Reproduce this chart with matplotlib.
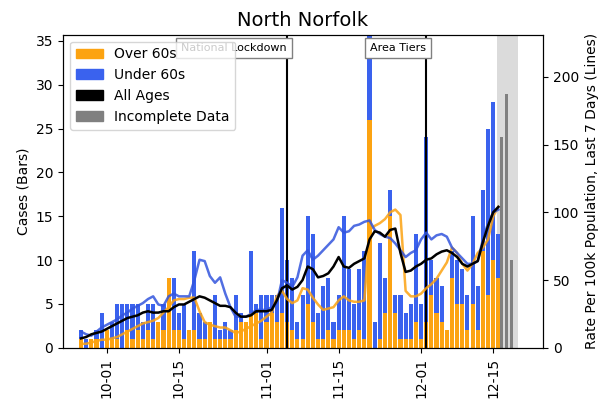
import matplotlib
matplotlib.use("Agg")
import matplotlib.pyplot as plt
import matplotlib.dates as mdates
from matplotlib.patches import Patch
import pandas as pd

# daily cases, 26 Sep - 16 Dec 2020
dates = pd.date_range("2020-09-26", "2020-12-16", freq="D")
over60 = [1, 0, 1, 1, 0, 2, 1, 1, 0, 2, 1, 2, 1, 2, 1, 3, 2, 8,
          2, 2, 1, 2, 2, 1, 1, 3, 1, 1, 1, 1, 2, 3, 3, 4, 4, 1,
          3, 4, 3, 4, 3, 2, 1, 1, 5, 3, 1, 1, 2, 1, 2, 2, 2, 1, 2, 1,
          26, 0, 1, 4, 15, 4, 1, 1, 1, 3, 1, 3, 6, 4, 3, 2, 8, 5, 5, 2,
          5, 2, 11, 6, 10, 8]
under60 = [1, 1, 0, 1, 4, 0, 2, 4, 5, 3, 4, 3, 2, 3, 4, 0, 3, 0,
           6, 2, 4, 0, 9, 3, 2, 0, 5, 1, 2, 1, 4, 1, 0, 7, 1, 5,
           3, 2, 3, 12, 7, 6, 2, 5, 10, 10, 3, 6, 6, 2, 4, 13, 7, 4, 7, 10,
           11, 3, 11, 4, 3, 2, 5, 3, 4, 10, 4, 21, 4, 4, 4, 0, 3, 5, 4, 4,
           10, 5, 7, 19, 18, 5]

# incomplete recent days
inc_dates = pd.to_datetime(["2020-12-17", "2020-12-18", "2020-12-19"])
inc_cases = [24, 29, 10]

# 7-day rates per 100k
rate_all = [7, 8, 10, 11, 12, 14, 16, 18, 20, 22, 23, 24, 26, 27, 26, 26, 27, 27,
            30, 32, 32, 34, 36, 38, 37, 35, 33, 31, 31, 30, 26, 23, 23, 24, 27, 27,
            27, 28, 35, 44, 46, 43, 45, 50, 60, 58, 52, 53, 55, 60, 67, 60, 59, 62, 64, 66,
            80, 86, 85, 82, 87, 88, 70, 56, 57, 60, 62, 65, 66, 69, 71, 72, 70, 67, 62, 60,
            62, 64, 78, 90, 100, 104]
rate_under = [12, 10, 9, 12, 15, 17, 19, 21, 24, 26, 29, 31, 33, 36, 38, 32, 31, 38,
              40, 38, 38, 38, 50, 65, 64, 53, 48, 52, 40, 30, 23, 23, 23, 25, 28, 28,
              28, 30, 33, 50, 48, 45, 52, 68, 72, 65, 68, 72, 76, 80, 89, 85, 86, 90, 91, 93,
              94, 87, 84, 82, 81, 77, 72, 67, 70, 72, 80, 85, 80, 83, 84, 82, 74, 70, 66, 62,
              62, 64, 80, 92, 100, 102]
rate_over = [3, 3, 4, 5, 6, 6, 7, 8, 10, 12, 14, 16, 18, 19, 20, 22, 26, 30,
             35, 36, 36, 37, 37, 27, 19, 17, 16, 15, 15, 13, 11, 12, 14, 16, 18, 20,
             23, 26, 38, 42, 36, 33, 35, 44, 43, 37, 32, 28, 29, 30, 35, 38, 35, 34, 34, 35,
             87, 90, 92, 95, 100, 102, 98, 42, 38, 38, 40, 44, 47, 51, 57, 63, 74, 70, 62, 57,
             62, 70, 74, 80, 97, 104]

events = [("National Lockdown", "2020-11-05"), ("Area Tiers", "2020-12-02")]

orange = "#fca311"
blue = "#3a62ee"

fig = plt.figure(figsize=(6, 4.04), dpi=100)
ax = fig.add_axes([0.105, 0.139, 0.8, 0.775])
ax2 = ax.twinx()

ax.bar(dates, over60, width=0.8, color=orange)
ax.bar(dates, under60, bottom=over60, width=0.8, color=blue)
ax.bar(inc_dates - pd.Timedelta(hours=10), inc_cases, width=0.55, color="gray")
ax.axvspan(pd.Timestamp("2020-12-15 20:00"), pd.Timestamp("2020-12-19 19:00"),
           color="lightgray", alpha=0.8, lw=0, zorder=0)

for label, d in events:
    ax.axvline(pd.Timestamp(d), color="black", lw=1.5)

ax2.plot(dates, rate_over, color=orange, lw=1.8, alpha=0.85)
ax2.plot(dates, rate_under, color="#3355dd", lw=1.8, alpha=0.85)
ax2.plot(dates, rate_all, color="black", lw=1.8)

for label, d in events:
    ax2.text(pd.Timestamp(d), 0.975, label, ha="right", va="top", fontsize=8,
             transform=ax2.get_xaxis_transform(),
             bbox=dict(boxstyle="square,pad=0.45", fc="white", ec="gray"))

ax.set_ylim(0, 35.7)
ax2.set_ylim(0, 231)
ax.set_xlim(pd.Timestamp("2020-09-22 12:00"), pd.Timestamp("2020-12-24 16:00"))
ax.xaxis.set_major_locator(mdates.DayLocator(bymonthday=[1, 15]))
ax.xaxis.set_major_formatter(mdates.DateFormatter("%m-%d"))
plt.setp(ax.get_xticklabels(), rotation=90)
ax.tick_params(labelsize=10)
ax2.tick_params(labelsize=10)

ax.set_ylabel("Cases (Bars)", fontsize=10)
ax2.set_ylabel("Rate Per 100k Population, Last 7 Days (Lines)", fontsize=10)
ax.set_title("North Norfolk", fontsize=14)

handles = [Patch(color=orange, label="Over 60s"),
           Patch(color=blue, label="Under 60s"),
           Patch(color="black", label="All Ages"),
           Patch(color="gray", label="Incomplete Data")]
ax2.legend(handles=handles, loc="upper left", fontsize=10, framealpha=0.8)

fig.savefig("out.png")
